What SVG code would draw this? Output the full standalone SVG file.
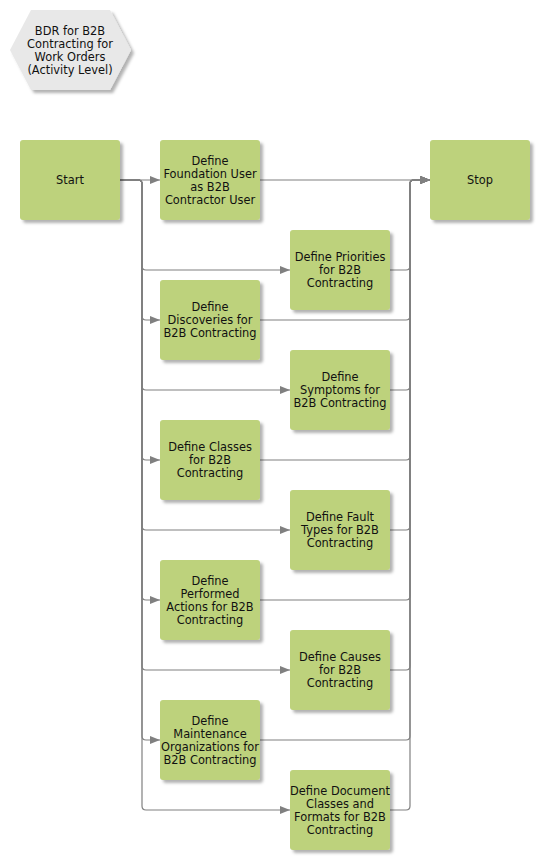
<svg xmlns="http://www.w3.org/2000/svg" width="540" height="860" viewBox="0 0 540 860">
<style>
.n{fill:#bdd27b;filter:url(#sh)}
.h{fill:#e8e8e8;filter:url(#sh)}
.t{font-family:"DejaVu Sans",Verdana,sans-serif;font-size:11.4px;fill:#111;text-anchor:middle}
.c{fill:none;stroke:#808080;stroke-width:1.2}
.a{marker-end:url(#ar)}
</style>
<defs>
<filter id="sh" x="-10%" y="-10%" width="130%" height="130%"><feDropShadow dx="3" dy="3" stdDeviation="1.5" flood-color="#000" flood-opacity="0.3"/></filter>
<marker id="ar" markerUnits="userSpaceOnUse" markerWidth="11" markerHeight="8" refX="10" refY="4" orient="auto"><path d="M0,0 L10,4 L0,8 Z" fill="#808080"/></marker>
</defs>
<g id="connectors">
<path class="c a" d="M120,180 H160"/>
<path class="c a" d="M260,180 H430"/>
<path class="c a" d="M120,180 H138 Q142,180 142,184 V266 Q142,270 146,270 H290"/>
<path class="c a" d="M120,180 H138 Q142,180 142,184 V316 Q142,320 146,320 H160"/>
<path class="c a" d="M120,180 H138 Q142,180 142,184 V386 Q142,390 146,390 H290"/>
<path class="c a" d="M120,180 H138 Q142,180 142,184 V456 Q142,460 146,460 H160"/>
<path class="c a" d="M120,180 H138 Q142,180 142,184 V526 Q142,530 146,530 H290"/>
<path class="c a" d="M120,180 H138 Q142,180 142,184 V596 Q142,600 146,600 H160"/>
<path class="c a" d="M120,180 H138 Q142,180 142,184 V666 Q142,670 146,670 H290"/>
<path class="c a" d="M120,180 H138 Q142,180 142,184 V736 Q142,740 146,740 H160"/>
<path class="c a" d="M120,180 H138 Q142,180 142,184 V806 Q142,810 146,810 H290"/>
<path class="c a" d="M390,270 H406 Q410,270 410,266 V184 Q410,180 414,180 H430"/>
<path class="c a" d="M260,320 H406 Q410,320 410,316 V184 Q410,180 414,180 H430"/>
<path class="c a" d="M390,390 H406 Q410,390 410,386 V184 Q410,180 414,180 H430"/>
<path class="c a" d="M260,460 H406 Q410,460 410,456 V184 Q410,180 414,180 H430"/>
<path class="c a" d="M390,530 H406 Q410,530 410,526 V184 Q410,180 414,180 H430"/>
<path class="c a" d="M260,600 H406 Q410,600 410,596 V184 Q410,180 414,180 H430"/>
<path class="c a" d="M390,670 H406 Q410,670 410,666 V184 Q410,180 414,180 H430"/>
<path class="c a" d="M260,740 H406 Q410,740 410,736 V184 Q410,180 414,180 H430"/>
<path class="c a" d="M390,810 H406 Q410,810 410,806 V184 Q410,180 414,180 H430"/>
</g>
<g id="title">
<polygon class="h" points="10,50 31,10 110,10 131,50 110,90 31,90"/>
<text class="t"><tspan x="70" y="35">BDR for B2B</tspan><tspan x="70" y="48">Contracting for</tspan><tspan x="70" y="61">Work Orders</tspan><tspan x="70" y="74">(Activity Level)</tspan></text>
</g>
<g id="start"><rect class="n" x="20" y="140" width="100" height="80" rx="3"/><text class="t" x="70" y="184">Start</text></g>
<g id="foundation"><rect class="n" x="160" y="140" width="100" height="80" rx="3"/><text class="t"><tspan x="210" y="165">Define</tspan><tspan x="210" y="178">Foundation User</tspan><tspan x="210" y="191">as B2B</tspan><tspan x="210" y="204">Contractor User</tspan></text></g>
<g id="stop"><rect class="n" x="430" y="140" width="100" height="80" rx="3"/><text class="t" x="480" y="184">Stop</text></g>
<g id="priorities"><rect class="n" x="290" y="230" width="100" height="80" rx="3"/><text class="t"><tspan x="340" y="261">Define Priorities</tspan><tspan x="340" y="274">for B2B</tspan><tspan x="340" y="287">Contracting</tspan></text></g>
<g id="discoveries"><rect class="n" x="160" y="280" width="100" height="80" rx="3"/><text class="t"><tspan x="210" y="311">Define</tspan><tspan x="210" y="324">Discoveries for</tspan><tspan x="210" y="337">B2B Contracting</tspan></text></g>
<g id="symptoms"><rect class="n" x="290" y="350" width="100" height="80" rx="3"/><text class="t"><tspan x="340" y="381">Define</tspan><tspan x="340" y="394">Symptoms for</tspan><tspan x="340" y="407">B2B Contracting</tspan></text></g>
<g id="classes"><rect class="n" x="160" y="420" width="100" height="80" rx="3"/><text class="t"><tspan x="210" y="451">Define Classes</tspan><tspan x="210" y="464">for B2B</tspan><tspan x="210" y="477">Contracting</tspan></text></g>
<g id="faulttypes"><rect class="n" x="290" y="490" width="100" height="80" rx="3"/><text class="t"><tspan x="340" y="521">Define Fault</tspan><tspan x="340" y="534">Types for B2B</tspan><tspan x="340" y="547">Contracting</tspan></text></g>
<g id="performed"><rect class="n" x="160" y="560" width="100" height="80" rx="3"/><text class="t"><tspan x="210" y="585">Define</tspan><tspan x="210" y="598">Performed</tspan><tspan x="210" y="611">Actions for B2B</tspan><tspan x="210" y="624">Contracting</tspan></text></g>
<g id="causes"><rect class="n" x="290" y="630" width="100" height="80" rx="3"/><text class="t"><tspan x="340" y="661">Define Causes</tspan><tspan x="340" y="674">for B2B</tspan><tspan x="340" y="687">Contracting</tspan></text></g>
<g id="maintenance"><rect class="n" x="160" y="700" width="100" height="80" rx="3"/><text class="t"><tspan x="210" y="725">Define</tspan><tspan x="210" y="738">Maintenance</tspan><tspan x="210" y="751">Organizations for</tspan><tspan x="210" y="764">B2B Contracting</tspan></text></g>
<g id="document"><rect class="n" x="290" y="770" width="100" height="80" rx="3"/><text class="t"><tspan x="340" y="795">Define Document</tspan><tspan x="340" y="808">Classes and</tspan><tspan x="340" y="821">Formats for B2B</tspan><tspan x="340" y="834">Contracting</tspan></text></g>
</svg>
